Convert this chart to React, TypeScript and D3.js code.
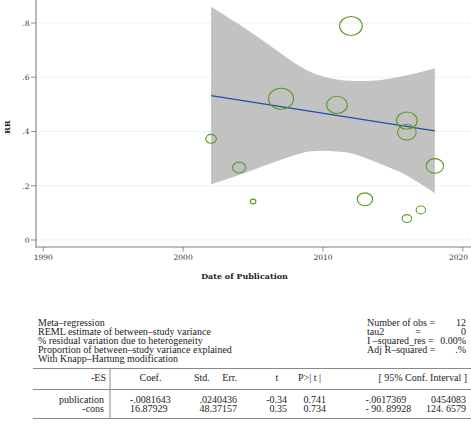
import React from "react";
import * as d3 from "d3";

// ---- data ----
const studyYear = [2002, 2004, 2005, 2007, 2011, 2012, 2013, 2016, 2016, 2016, 2017, 2018];
const studyRR = [0.373, 0.267, 0.142, 0.521, 0.498, 0.789, 0.15, 0.44, 0.397, 0.079, 0.111, 0.273];
const studyWeight = [28, 42, 8, 156, 106, 128, 59, 106, 86, 22, 22, 76];

const bandYear = [2002, 2003, 2004, 2005, 2006, 2007, 2008, 2009, 2010, 2011, 2012, 2013, 2014, 2015, 2016, 2017, 2018];
const bandUpper = [0.86, 0.828, 0.795, 0.76, 0.724, 0.688, 0.652, 0.622, 0.603, 0.592, 0.587, 0.586, 0.589, 0.597, 0.607, 0.619, 0.633];
const bandLower = [0.205, 0.222, 0.24, 0.258, 0.277, 0.296, 0.313, 0.326, 0.329, 0.326, 0.32, 0.303, 0.283, 0.262, 0.238, 0.206, 0.172];

const fitYear = [2002, 2018];
const fitRR = [0.532, 0.402];

const xTicks = [1990, 2000, 2010, 2020];
const yTicks = [0, 0.2, 0.4, 0.6, 0.8];
const yTickLabels = ["0", ".2", ".4", ".6", ".8"];

const headerLines = [
  "Meta–regression",
  "REML estimate of between–study variance",
  "% residual variation due to heterogeneity",
  "Proportion of between–study variance explained",
  "With Knapp–Hartung modification",
];
const statLabels = ["Number of obs =", "tau2", "I –squared_res =", "Adj R–squared ="];
const statValues = ["12", "0", "0.00%", ".%"];

const rowNames = ["publication", "-cons"];
const rowCoef = ["-.0081643", "16.87929"];
const rowSE = [".0240436", "48.37157"];
const rowT = ["-0.34", "0.35"];
const rowP = ["0.741", "0.734"];
const rowLo = ["-.0617369", "- 90. 89928"];
const rowHi = ["0454083", "124. 6579"];

export default function App() {
  const W = 471, H = 429;
  const x = d3.scaleLinear().domain([1990, 2020]).range([43.3, 462.8]);
  const y = d3.scaleLinear().domain([0, 0.8]).range([240, 23]);
  const r = d3.scaleSqrt().domain([0, 156]).range([0, 12.5]);

  const bandData = bandYear.map((yr, i) => ({ yr, lo: bandLower[i], hi: bandUpper[i] }));
  const area = d3
    .area<{ yr: number; lo: number; hi: number }>()
    .x((d) => x(d.yr))
    .y0((d) => y(d.lo))
    .y1((d) => y(d.hi))
    .curve(d3.curveMonotoneX);
  const line = d3
    .line<number>()
    .x((_, i) => x(fitYear[i]))
    .y((d) => y(d));

  const serif = "'DejaVu Serif', serif";
  const tf = "'Liberation Serif', serif";
  const tableFs = 10;
  const axisColor = "#a8a8a8";
  const hy0 = 325.5, hdy = 9;

  return (
    <svg width={W} height={H} style={{ position: "absolute", left: 0, top: 0, background: "#fff" }}>
      {/* grid */}
      {yTicks.map((t) => (
        <line key={"g" + t} x1={37} x2={W} y1={y(t)} y2={y(t)} stroke="#e6f4f4" strokeWidth={1} />
      ))}
      {/* band */}
      <path d={area(bandData) || ""} fill="#c2c2c2" />
      {/* fit line */}
      <path d={line(fitRR) || ""} fill="none" stroke="#1f4fa8" strokeWidth={1.3} />
      {/* studies */}
      {studyYear.map((yr, i) => (
        <ellipse
          key={"c" + i}
          cx={x(yr)}
          cy={y(studyRR[i])}
          rx={r(studyWeight[i])}
          ry={r(studyWeight[i]) * 0.84}
          fill="none"
          stroke="#5a9a24"
          strokeWidth={1.1}
        />
      ))}
      {/* axes */}
      <line x1={36} x2={36} y1={0} y2={247.5} stroke={axisColor} strokeWidth={1.6} />
      <line x1={35.2} x2={W} y1={247} y2={247} stroke={axisColor} strokeWidth={1.6} />
      {yTicks.map((t, i) => (
        <g key={"yt" + t}>
          <line x1={31} x2={36} y1={y(t)} y2={y(t)} stroke="#777" strokeWidth={0.8} />
          <text x={29.5} y={y(t) + 2.8} textAnchor="end" fontFamily={serif} fontSize={7.5} fill="#333">
            {yTickLabels[i]}
          </text>
        </g>
      ))}
      {xTicks.map((t) => (
        <g key={"xt" + t}>
          <line x1={x(t)} x2={x(t)} y1={247} y2={251.5} stroke="#777" strokeWidth={0.8} />
          <text x={Math.min(x(t), W - 12.5)} y={259.5} textAnchor="middle" fontFamily={serif} fontSize={7.5} fill="#333">
            {t}
          </text>
        </g>
      ))}
      <text
        transform="translate(9.5,127) rotate(-90)"
        textAnchor="middle"
        fontFamily={serif}
        fontWeight="bold"
        fontSize={8}
        fill="#222"
      >
        RR
      </text>
      <text x={244.5} y={279} textAnchor="middle" fontFamily={serif} fontWeight="bold" fontSize={8} fill="#222">
        Date of Publication
      </text>

      {/* header text */}
      {headerLines.map((s, i) => (
        <text key={"h" + i} x={38} y={hy0 + i * hdy} fontFamily={tf} fontSize={tableFs} fill="#222">
          {s}
        </text>
      ))}
      {statLabels.map((s, i) => (
        <text key={"sl" + i} x={367} y={hy0 + i * hdy} fontFamily={tf} fontSize={tableFs} fill="#222">
          {s}
        </text>
      ))}
      <text x={421} y={hy0 + hdy} textAnchor="end" fontFamily={tf} fontSize={tableFs} fill="#222">
        =
      </text>
      {statValues.map((s, i) => (
        <text key={"sv" + i} x={466} y={hy0 + i * hdy} textAnchor="end" fontFamily={tf} fontSize={tableFs} fill="#222">
          {s}
        </text>
      ))}

      {/* table lines */}
      <line x1={33} x2={W} y1={368.5} y2={368.5} stroke="#8a8a8a" strokeWidth={1} />
      <line x1={33} x2={W} y1={389.5} y2={389.5} stroke="#8a8a8a" strokeWidth={1} />
      <line x1={33} x2={W} y1={418.5} y2={418.5} stroke="#8a8a8a" strokeWidth={1} />
      <line x1={110} x2={110} y1={368.5} y2={418.5} stroke="#8a8a8a" strokeWidth={1} />

      {/* table header */}
      <g fontFamily={tf} fontSize={tableFs} fill="#222">
        <text x={106} y={381} textAnchor="end">-ES</text>
        <text x={150.5} y={381} textAnchor="middle">Coef.</text>
        <text x={194} y={381}>Std.</text>
        <text x={237} y={381} textAnchor="end">Err.</text>
        <text x={277} y={381} textAnchor="middle">t</text>
        <text x={298} y={381}>P&gt;| t |</text>
        <text x={467} y={381} textAnchor="end">[ 95% Conf. Interval ]</text>
        {rowNames.map((s, i) => (
          <g key={"r" + i}>
            <text x={104} y={403 + i * 9} textAnchor="end">{s}</text>
            <text x={130} y={403 + i * 9}>{rowCoef[i]}</text>
            <text x={237} y={403 + i * 9} textAnchor="end">{rowSE[i]}</text>
            <text x={287} y={403 + i * 9} textAnchor="end">{rowT[i]}</text>
            <text x={326} y={403 + i * 9} textAnchor="end">{rowP[i]}</text>
            <text x={365.5} y={403 + i * 9}>{rowLo[i]}</text>
            <text x={466} y={403 + i * 9} textAnchor="end">{rowHi[i]}</text>
          </g>
        ))}
      </g>
    </svg>
  );
}
